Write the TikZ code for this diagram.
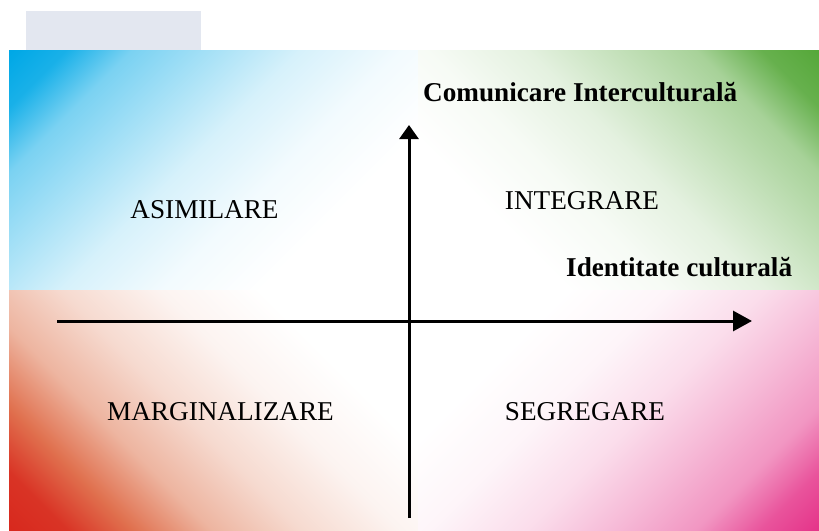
\documentclass[tikz,border=0pt]{standalone}
\usepackage{fontspec}
\setmainfont{Liberation Serif}
\usetikzlibrary{arrows.meta}
\definecolor{cTL}{HTML}{00A8E6}
\definecolor{cTR}{HTML}{56A83A}
\definecolor{cBL}{HTML}{D8291E}
\definecolor{cBLm}{HTML}{E0704E}
\definecolor{cBLl}{HTML}{E9A288}
\definecolor{cBR}{HTML}{E5358A}
\definecolor{tabgrey}{HTML}{E3E7F0}
\pgfdeclareverticalshading{qTL}{100bp}{color(0bp)=(white); color(58.7bp)=(white); color(64.14bp)=(cTL!5); color(69.58bp)=(cTL!16); color(74.48bp)=(cTL!35); color(78.83bp)=(cTL!52); color(82.37bp)=(cTL!90); color(85.36bp)=(cTL); color(100bp)=(cTL)}
\pgfdeclareverticalshading{qTR}{100bp}{color(0bp)=(white); color(58.7bp)=(white); color(64.14bp)=(cTR!5); color(69.58bp)=(cTR!16); color(74.48bp)=(cTR!35); color(78.83bp)=(cTR!52); color(82.37bp)=(cTR!90); color(85.36bp)=(cTR); color(100bp)=(cTR)}
\pgfdeclareverticalshading{qBL}{100bp}{color(0bp)=(white); color(58.7bp)=(white); color(64.14bp)=(cBLl!12); color(69.58bp)=(cBLl!40); color(74.48bp)=(cBLl!80); color(78.83bp)=(cBLm); color(82.37bp)=(cBL!85!cBLm); color(85.36bp)=(cBL); color(100bp)=(cBL)}
\pgfdeclareverticalshading{qBR}{100bp}{color(0bp)=(white); color(58.7bp)=(white); color(64.14bp)=(cBR!5); color(69.58bp)=(cBR!17); color(74.48bp)=(cBR!35); color(78.83bp)=(cBR!52); color(82.37bp)=(cBR!85); color(85.36bp)=(cBR); color(100bp)=(cBR)}
\tikzset{
  quadlabel/.style={inner sep=0pt, anchor=base, font=\fontsize{27.2}{32}\selectfont},
  axislabel/.style={inner sep=0pt, anchor=base west, font=\fontsize{27.2}{32}\selectfont\bfseries},
  axisline/.style={line width=3pt, black},
}
\begin{document}
\begin{tikzpicture}[x=1pt,y=-1pt]
\useasboundingbox (0,0) rectangle (819,530);
\fill[white] (0,0) rectangle (819,530);
\fill[tabgrey] (26,11) rectangle (201,50);
\begin{scope}
  \clip (9,50) rectangle (418.5,290);
  \shade[shading=qTL, shading angle=45] (9,50) rectangle (659,700);
\end{scope}
\begin{scope}
  \clip (418,50) rectangle (819,290);
  \shade[shading=qTR, shading angle=-45] (169,50) rectangle (819,700);
\end{scope}
\begin{scope}
  \clip (9,290) rectangle (418.5,530);
  \shade[shading=qBL, shading angle=135] (9,-120) rectangle (659,530);
\end{scope}
\begin{scope}
  \clip (418,290) rectangle (819,530);
  \shade[shading=qBR, shading angle=-135] (169,-120) rectangle (819,530);
\end{scope}
\coordinate (vb) at (409,518);
\coordinate (vt) at (409,125);
\coordinate (hl) at (57,321);
\coordinate (hr) at (752,321);
\draw[axisline, -{Triangle[length=14pt,width=19pt]}] (vb) -- (vt);
\draw[axisline, -{Triangle[length=19pt,width=20pt]}] (hl) -- (hr);
\node[quadlabel] (asim) at (204.5,218) {ASIMILARE};
\node[quadlabel] (integ) at (582,209.3) {INTEGRARE};
\node[quadlabel] (marg) at (220.5,420) {MARGINALIZARE};
\node[quadlabel] (segr) at (585,420.5) {SEGREGARE};
\node[axislabel] (comm) at (423,101.7) {Comunicare Interculturală};
\node[axislabel] (ident) at (566,276.7) {Identitate culturală};
\end{tikzpicture}
\end{document}
